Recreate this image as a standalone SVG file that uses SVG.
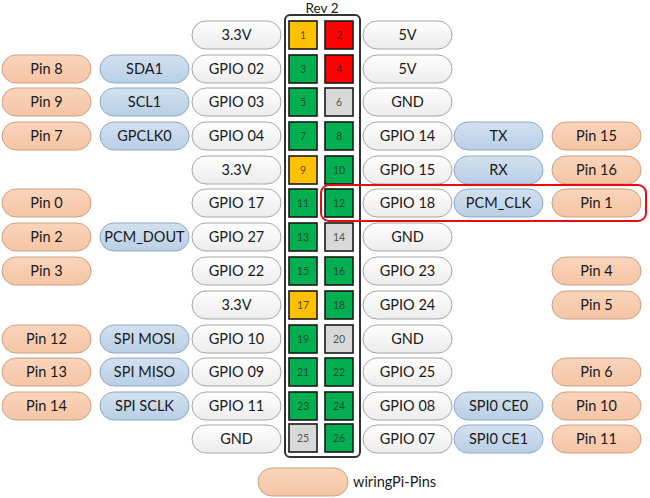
<svg xmlns="http://www.w3.org/2000/svg" width="650" height="498" viewBox="0 0 650 498">
<defs>
<linearGradient id="gw" x1="0" y1="0" x2="0" y2="1"><stop offset="0" stop-color="#ffffff"/><stop offset="1" stop-color="#ececec"/></linearGradient>
<linearGradient id="gb" x1="0" y1="0" x2="0" y2="1"><stop offset="0" stop-color="#d3e1ef"/><stop offset="1" stop-color="#b9cfe6"/></linearGradient>
<linearGradient id="go" x1="0" y1="0" x2="0" y2="1"><stop offset="0" stop-color="#fad4bb"/><stop offset="1" stop-color="#f5c5a5"/></linearGradient>
</defs>
<style>
text{font-family:Lato,"Liberation Sans",sans-serif;fill:#1a1a1a;text-anchor:middle}
.t{font-size:14.5px}
.n{font-size:10.5px;fill:#2a2a2a;fill-opacity:0.8}
.w{fill:url(#gw);stroke:#a6a6a6;stroke-width:1}
.b{fill:url(#gb);stroke:#8fa9c6;stroke-width:1}
.o{fill:url(#go);stroke:#c9a285;stroke-width:1}
.sq{stroke:#1a1a1a;stroke-width:1.6}
.y{fill:#ffc000}.r{fill:#ff0000}.g{fill:#00b050}.e{fill:#d9d9d9}
</style>
<rect width="650" height="498" fill="#ffffff"/>
<text x="322" y="13" style="font-size:13.5px">Rev 2</text>
<g id="header"><rect x="285" y="15" width="75" height="442" rx="5" fill="#ffffff" stroke="#333" stroke-width="2"/></g>

<g id="row1">
<rect class="w" x="192" y="21" width="89" height="28" rx="14"/><text class="t" x="236.5" y="40">3.3V</text>
<rect class="sq y" x="289" y="21" width="28" height="28"/><text class="n" x="303" y="39">1</text>
<rect class="sq r" x="325" y="21" width="28" height="28"/><text class="n" x="339" y="39">2</text>
<rect class="w" x="363" y="21" width="89" height="28" rx="14"/><text class="t" x="407.5" y="40">5V</text>
</g>
<g id="row2">
<rect class="o" x="2" y="55" width="89" height="28" rx="14"/><text class="t" x="46.5" y="74">Pin 8</text>
<rect class="b" x="100" y="55" width="89" height="28" rx="14"/><text class="t" x="144.5" y="74">SDA1</text>
<rect class="w" x="192" y="55" width="89" height="28" rx="14"/><text class="t" x="236.5" y="74">GPIO 02</text>
<rect class="sq g" x="289" y="55" width="28" height="28"/><text class="n" x="303" y="73">3</text>
<rect class="sq r" x="325" y="55" width="28" height="28"/><text class="n" x="339" y="73">4</text>
<rect class="w" x="363" y="55" width="89" height="28" rx="14"/><text class="t" x="407.5" y="74">5V</text>
</g>
<g id="row3">
<rect class="o" x="2" y="88" width="89" height="28" rx="14"/><text class="t" x="46.5" y="107">Pin 9</text>
<rect class="b" x="100" y="88" width="89" height="28" rx="14"/><text class="t" x="144.5" y="107">SCL1</text>
<rect class="w" x="192" y="88" width="89" height="28" rx="14"/><text class="t" x="236.5" y="107">GPIO 03</text>
<rect class="sq g" x="289" y="88" width="28" height="28"/><text class="n" x="303" y="106">5</text>
<rect class="sq e" x="325" y="88" width="28" height="28"/><text class="n" x="339" y="106">6</text>
<rect class="w" x="363" y="88" width="89" height="28" rx="14"/><text class="t" x="407.5" y="107">GND</text>
</g>
<g id="row4">
<rect class="o" x="2" y="122" width="89" height="28" rx="14"/><text class="t" x="46.5" y="141">Pin 7</text>
<rect class="b" x="100" y="122" width="89" height="28" rx="14"/><text class="t" x="144.5" y="141">GPCLK0</text>
<rect class="w" x="192" y="122" width="89" height="28" rx="14"/><text class="t" x="236.5" y="141">GPIO 04</text>
<rect class="sq g" x="289" y="122" width="28" height="28"/><text class="n" x="303" y="140">7</text>
<rect class="sq g" x="325" y="122" width="28" height="28"/><text class="n" x="339" y="140">8</text>
<rect class="w" x="363" y="122" width="89" height="28" rx="14"/><text class="t" x="407.5" y="141">GPIO 14</text>
<rect class="b" x="454" y="122" width="89" height="28" rx="14"/><text class="t" x="498.5" y="141">TX</text>
<rect class="o" x="552" y="122" width="89" height="28" rx="14"/><text class="t" x="596.5" y="141">Pin 15</text>
</g>
<g id="row5">
<rect class="w" x="192" y="156" width="89" height="28" rx="14"/><text class="t" x="236.5" y="175">3.3V</text>
<rect class="sq y" x="289" y="156" width="28" height="28"/><text class="n" x="303" y="174">9</text>
<rect class="sq g" x="325" y="156" width="28" height="28"/><text class="n" x="339" y="174">10</text>
<rect class="w" x="363" y="156" width="89" height="28" rx="14"/><text class="t" x="407.5" y="175">GPIO 15</text>
<rect class="b" x="454" y="156" width="89" height="28" rx="14"/><text class="t" x="498.5" y="175">RX</text>
<rect class="o" x="552" y="156" width="89" height="28" rx="14"/><text class="t" x="596.5" y="175">Pin 16</text>
</g>
<g id="row6">
<rect class="o" x="2" y="189" width="89" height="28" rx="14"/><text class="t" x="46.5" y="208">Pin 0</text>
<rect class="w" x="192" y="189" width="89" height="28" rx="14"/><text class="t" x="236.5" y="208">GPIO 17</text>
<rect class="sq g" x="289" y="189" width="28" height="28"/><text class="n" x="303" y="207">11</text>
<rect class="sq g" x="325" y="189" width="28" height="28"/><text class="n" x="339" y="207">12</text>
<rect class="w" x="363" y="189" width="89" height="28" rx="14"/><text class="t" x="407.5" y="208">GPIO 18</text>
<rect class="b" x="454" y="189" width="89" height="28" rx="14"/><text class="t" x="498.5" y="208">PCM_CLK</text>
<rect class="o" x="552" y="189" width="89" height="28" rx="14"/><text class="t" x="596.5" y="208">Pin 1</text>
</g>
<g id="row7">
<rect class="o" x="2" y="223" width="89" height="28" rx="14"/><text class="t" x="46.5" y="242">Pin 2</text>
<rect class="b" x="100" y="223" width="89" height="28" rx="14"/><text class="t" x="144.5" y="242">PCM_DOUT</text>
<rect class="w" x="192" y="223" width="89" height="28" rx="14"/><text class="t" x="236.5" y="242">GPIO 27</text>
<rect class="sq g" x="289" y="223" width="28" height="28"/><text class="n" x="303" y="241">13</text>
<rect class="sq e" x="325" y="223" width="28" height="28"/><text class="n" x="339" y="241">14</text>
<rect class="w" x="363" y="223" width="89" height="28" rx="14"/><text class="t" x="407.5" y="242">GND</text>
</g>
<g id="row8">
<rect class="o" x="2" y="257" width="89" height="28" rx="14"/><text class="t" x="46.5" y="276">Pin 3</text>
<rect class="w" x="192" y="257" width="89" height="28" rx="14"/><text class="t" x="236.5" y="276">GPIO 22</text>
<rect class="sq g" x="289" y="257" width="28" height="28"/><text class="n" x="303" y="275">15</text>
<rect class="sq g" x="325" y="257" width="28" height="28"/><text class="n" x="339" y="275">16</text>
<rect class="w" x="363" y="257" width="89" height="28" rx="14"/><text class="t" x="407.5" y="276">GPIO 23</text>
<rect class="o" x="552" y="257" width="89" height="28" rx="14"/><text class="t" x="596.5" y="276">Pin 4</text>
</g>
<g id="row9">
<rect class="w" x="192" y="291" width="89" height="28" rx="14"/><text class="t" x="236.5" y="310">3.3V</text>
<rect class="sq y" x="289" y="291" width="28" height="28"/><text class="n" x="303" y="309">17</text>
<rect class="sq g" x="325" y="291" width="28" height="28"/><text class="n" x="339" y="309">18</text>
<rect class="w" x="363" y="291" width="89" height="28" rx="14"/><text class="t" x="407.5" y="310">GPIO 24</text>
<rect class="o" x="552" y="291" width="89" height="28" rx="14"/><text class="t" x="596.5" y="310">Pin 5</text>
</g>
<g id="row10">
<rect class="o" x="2" y="325" width="89" height="28" rx="14"/><text class="t" x="46.5" y="344">Pin 12</text>
<rect class="b" x="100" y="325" width="89" height="28" rx="14"/><text class="t" x="144.5" y="344">SPI MOSI</text>
<rect class="w" x="192" y="325" width="89" height="28" rx="14"/><text class="t" x="236.5" y="344">GPIO 10</text>
<rect class="sq g" x="289" y="325" width="28" height="28"/><text class="n" x="303" y="343">19</text>
<rect class="sq e" x="325" y="325" width="28" height="28"/><text class="n" x="339" y="343">20</text>
<rect class="w" x="363" y="325" width="89" height="28" rx="14"/><text class="t" x="407.5" y="344">GND</text>
</g>
<g id="row11">
<rect class="o" x="2" y="358" width="89" height="28" rx="14"/><text class="t" x="46.5" y="377">Pin 13</text>
<rect class="b" x="100" y="358" width="89" height="28" rx="14"/><text class="t" x="144.5" y="377">SPI MISO</text>
<rect class="w" x="192" y="358" width="89" height="28" rx="14"/><text class="t" x="236.5" y="377">GPIO 09</text>
<rect class="sq g" x="289" y="358" width="28" height="28"/><text class="n" x="303" y="376">21</text>
<rect class="sq g" x="325" y="358" width="28" height="28"/><text class="n" x="339" y="376">22</text>
<rect class="w" x="363" y="358" width="89" height="28" rx="14"/><text class="t" x="407.5" y="377">GPIO 25</text>
<rect class="o" x="552" y="358" width="89" height="28" rx="14"/><text class="t" x="596.5" y="377">Pin 6</text>
</g>
<g id="row12">
<rect class="o" x="2" y="392" width="89" height="28" rx="14"/><text class="t" x="46.5" y="411">Pin 14</text>
<rect class="b" x="100" y="392" width="89" height="28" rx="14"/><text class="t" x="144.5" y="411">SPI SCLK</text>
<rect class="w" x="192" y="392" width="89" height="28" rx="14"/><text class="t" x="236.5" y="411">GPIO 11</text>
<rect class="sq g" x="289" y="392" width="28" height="28"/><text class="n" x="303" y="410">23</text>
<rect class="sq g" x="325" y="392" width="28" height="28"/><text class="n" x="339" y="410">24</text>
<rect class="w" x="363" y="392" width="89" height="28" rx="14"/><text class="t" x="407.5" y="411">GPIO 08</text>
<rect class="b" x="454" y="392" width="89" height="28" rx="14"/><text class="t" x="498.5" y="411">SPI0 CE0</text>
<rect class="o" x="552" y="392" width="89" height="28" rx="14"/><text class="t" x="596.5" y="411">Pin 10</text>
</g>
<g id="row13">
<rect class="w" x="192" y="425" width="89" height="28" rx="14"/><text class="t" x="236.5" y="444">GND</text>
<rect class="sq e" x="289" y="424" width="28" height="28"/><text class="n" x="303" y="442">25</text>
<rect class="sq g" x="325" y="424" width="28" height="28"/><text class="n" x="339" y="442">26</text>
<rect class="w" x="363" y="425" width="89" height="28" rx="14"/><text class="t" x="407.5" y="444">GPIO 07</text>
<rect class="b" x="454" y="425" width="89" height="28" rx="14"/><text class="t" x="498.5" y="444">SPI0 CE1</text>
<rect class="o" x="552" y="425" width="89" height="28" rx="14"/><text class="t" x="596.5" y="444">Pin 11</text>
</g>
<g id="highlight"><rect x="321" y="185" width="325" height="36" rx="8" fill="none" stroke="#e01010" stroke-width="2"/></g>
<g id="legend">
<rect class="o" x="258" y="468" width="90" height="28" rx="14"/>
<text class="t" x="353" y="487" style="text-anchor:start">wiringPi-Pins</text>
</g>
</svg>
